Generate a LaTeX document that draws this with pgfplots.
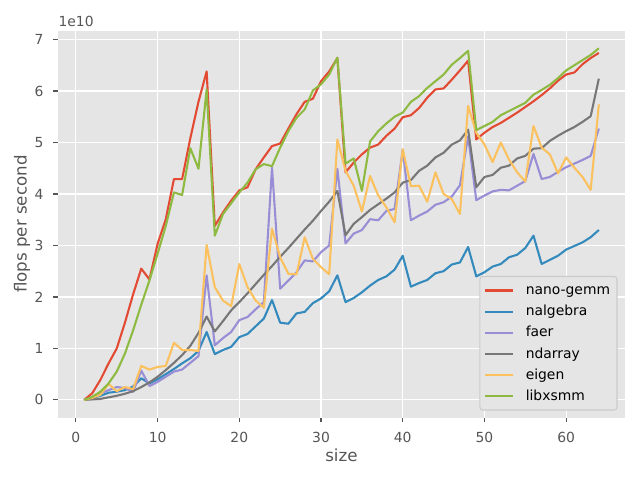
\documentclass[border=0pt]{standalone}
\usepackage{fontspec}
\setmainfont{DejaVu Sans}
\usepackage{pgfplots}
\usepackage{pgfplotstable}
\pgfplotsset{compat=1.18}
\definecolor{cred}{HTML}{E24A33}
\definecolor{cblue}{HTML}{348ABD}
\definecolor{cpurple}{HTML}{988ED5}
\definecolor{cgray}{HTML}{777777}
\definecolor{cyellow}{HTML}{FBC15E}
\definecolor{cgreen}{HTML}{8EBA42}
\definecolor{cbg}{HTML}{E5E5E5}
\definecolor{ctext}{HTML}{555555}
\definecolor{cedge}{HTML}{CCCCCC}

\pgfplotstableread{
x nano nalg faer nd eigen lib
1 0 0 0 0 0 0
2 0.13 0.04 0.04 0.01 0.04 0.06
3 0.39 0.08 0.13 0.02 0.10 0.16
4 0.71 0.14 0.19 0.05 0.31 0.32
5 1.00 0.16 0.25 0.08 0.17 0.55
6 1.50 0.19 0.23 0.12 0.25 0.90
7 2.05 0.26 0.16 0.17 0.21 1.35
8 2.55 0.42 0.57 0.25 0.66 1.85
9 2.34 0.32 0.27 0.34 0.59 2.32
10 3.03 0.40 0.35 0.45 0.64 2.84
11 3.51 0.50 0.45 0.58 0.66 3.38
12 4.29 0.60 0.55 0.72 1.11 4.03
13 4.29 0.71 0.59 0.87 0.97 3.98
14 5.08 0.81 0.72 1.05 0.97 4.89
15 5.79 0.95 0.85 1.30 0.95 4.49
16 6.38 1.32 2.42 1.62 3.01 6.03
17 3.38 0.89 1.06 1.33 2.19 3.19
18 3.64 0.97 1.20 1.53 1.93 3.61
19 3.87 1.03 1.32 1.74 1.82 3.82
20 4.07 1.22 1.55 1.90 2.64 4.03
21 4.13 1.28 1.61 2.07 2.19 4.22
22 4.48 1.43 1.76 2.25 1.93 4.48
23 4.71 1.58 1.90 2.43 1.79 4.58
24 4.93 1.94 4.51 2.60 3.33 4.54
25 4.98 1.50 2.16 2.78 2.77 4.90
26 5.27 1.48 2.32 2.95 2.45 5.22
27 5.55 1.68 2.48 3.13 2.44 5.48
28 5.79 1.71 2.71 3.31 3.16 5.64
29 5.85 1.88 2.69 3.48 2.74 6.01
30 6.19 1.97 2.87 3.67 2.58 6.13
31 6.38 2.11 3.00 3.85 2.44 6.32
32 6.64 2.42 4.49 4.06 5.06 6.65
33 4.42 1.90 3.04 3.20 4.45 4.59
34 4.61 1.98 3.23 3.42 4.16 4.69
35 4.77 2.09 3.30 3.55 3.66 4.06
36 4.90 2.22 3.51 3.69 4.35 5.02
37 4.96 2.33 3.49 3.80 3.97 5.22
38 5.13 2.40 3.67 3.91 3.74 5.37
39 5.27 2.53 3.71 4.03 3.45 5.50
40 5.49 2.80 4.86 4.22 4.87 5.58
41 5.53 2.20 3.49 4.27 4.15 5.79
42 5.67 2.27 3.58 4.45 4.16 5.90
43 5.87 2.33 3.66 4.55 3.85 6.06
44 6.03 2.46 3.79 4.71 4.42 6.19
45 6.05 2.50 3.84 4.80 4.00 6.32
46 6.22 2.63 3.95 4.96 3.90 6.51
47 6.40 2.67 4.17 5.04 3.61 6.64
48 6.59 2.97 5.12 5.25 5.71 6.78
49 5.06 2.40 3.88 4.13 5.19 5.24
50 5.19 2.48 3.97 4.33 4.96 5.32
51 5.30 2.59 4.05 4.37 4.62 5.40
52 5.38 2.64 4.08 4.51 5.00 5.53
53 5.48 2.77 4.07 4.55 4.67 5.61
54 5.58 2.82 4.16 4.69 4.42 5.69
55 5.69 2.95 4.25 4.74 4.24 5.77
56 5.80 3.19 4.78 4.88 5.32 5.93
57 5.92 2.64 4.29 4.89 4.90 6.02
58 6.05 2.72 4.33 5.03 4.77 6.12
59 6.20 2.80 4.43 5.13 4.40 6.25
60 6.32 2.92 4.52 5.22 4.71 6.40
61 6.36 2.99 4.59 5.30 4.51 6.50
62 6.52 3.06 4.66 5.40 4.33 6.60
63 6.64 3.16 4.74 5.51 4.08 6.70
64 6.74 3.30 5.27 6.24 5.74 6.83
}\datatable

\begin{document}
\begin{tikzpicture}
\useasboundingbox (-42.0pt,-45.0pt) rectangle (418.8pt,300.6pt);
\begin{axis}[
  at={(0,0)}, anchor=south west,
  scale only axis,
  width=407.7pt, height=278.5pt,
  xmin=-2.15, xmax=67.15,
  ymin=-0.3415, ymax=7.1715,
  xtick={0,10,...,60},
  ytick={0,1,...,7},
  scaled ticks=false,
  /pgf/number format/assume math mode=true,
  axis background/.style={fill=cbg},
  axis line style={draw=none},
  grid=major,
  major grid style={white, line width=0.8pt},
  tick align=outside,
  xtick pos=left, ytick pos=left,
  major tick length=3.5pt,
  tick style={ctext, line width=0.8pt},
  tick label style={font=\fontsize{10}{12}\selectfont, text=ctext},
  xticklabel style={inner sep=0pt, yshift=-7pt, anchor=north},
  yticklabel style={inner sep=0pt, xshift=-7pt, anchor=east},
  xlabel={size},
  ylabel={flops per second},
  label style={font=\fontsize{12}{14}\selectfont, text=ctext},
  xlabel style={at={(axis description cs:0.5,-0.097)}, anchor=center},
  ylabel style={at={(axis description cs:-0.0643,0.5)}, anchor=center, rotate=0},
  legend cell align=left,
  legend image code/.code={\draw[#1] (0pt,0pt) -- (20pt,0pt);},
  legend style={
    at={(axis description cs:0.9876,0.018)}, anchor=south east,
    draw=cedge, fill=cbg, line width=0.8pt, rounded corners=2pt,
    font=\fontsize{10}{12}\selectfont,
    inner xsep=3pt, inner ysep=3.5pt,
    row sep=2.1pt, column sep=6.5pt,
    cells={anchor=west, inner sep=0pt, text height=7.6pt, text depth=2.4pt},
  },
  every axis plot/.append style={line width=1.5pt, line join=round, no markers},
  clip mode=individual,
]
\addplot[cred] table[x=x, y=nano] {\datatable};
\addlegendentry{nano-gemm}
\addplot[cblue] table[x=x, y=nalg] {\datatable};
\addlegendentry{nalgebra}
\addplot[cpurple] table[x=x, y=faer] {\datatable};
\addlegendentry{faer}
\addplot[cgray] table[x=x, y=nd] {\datatable};
\addlegendentry{ndarray}
\addplot[cyellow] table[x=x, y=eigen] {\datatable};
\addlegendentry{eigen}
\addplot[cgreen] table[x=x, y=lib] {\datatable};
\addlegendentry{libxsmm}
\node[anchor=south west, inner sep=0pt, font=\fontsize{10}{12}\selectfont, text=ctext] at (rel axis cs:0,1) [yshift=2.5pt] {1e10};
\end{axis}
\end{tikzpicture}
\end{document}
